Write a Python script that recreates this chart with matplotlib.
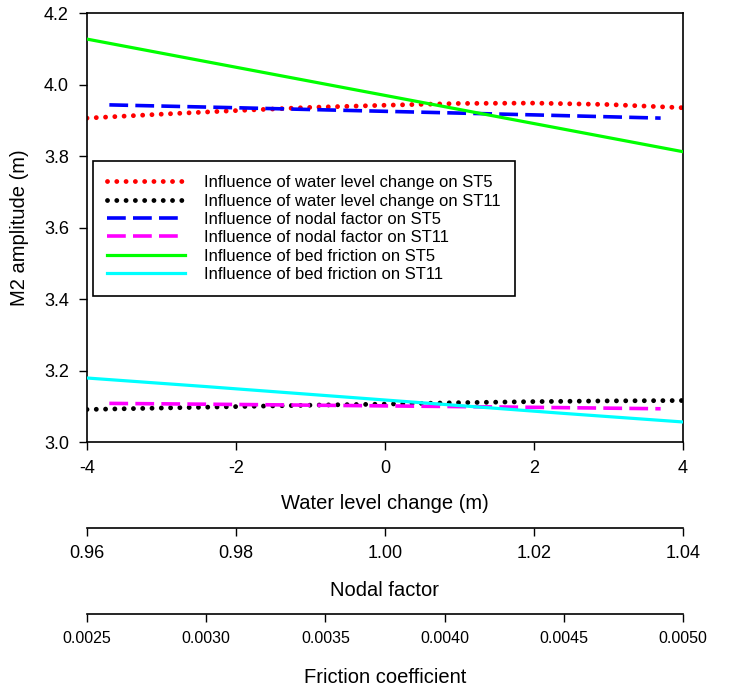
import numpy as np
import matplotlib
matplotlib.use("Agg")
import matplotlib.pyplot as plt

plt.rcParams['font.family'] = ['Liberation Sans', 'DejaVu Sans']
plt.rcParams['axes.unicode_minus'] = False

# water level change (m) and M2 amplitude
water_level = [-4, -3, -2, -1, 0, 1, 2, 3, 4]
wl_st5 = [3.906, 3.917, 3.927, 3.936, 3.942, 3.947, 3.948, 3.944, 3.935]
wl_st11 = [3.091, 3.095, 3.099, 3.103, 3.106, 3.110, 3.113, 3.115, 3.116]

# nodal factor
nodal = [0.963, 0.98, 1.00, 1.02, 1.037]
nf_st5 = [3.943, 3.935, 3.925, 3.915, 3.906]
nf_st11 = [3.108, 3.105, 3.101, 3.097, 3.093]

# friction coefficient
friction = [0.0025, 0.0030, 0.0035, 0.0040, 0.0045, 0.0050]
bf_st5 = [4.127, 4.064, 4.001, 3.938, 3.875, 3.812]
bf_st11 = [3.179, 3.155, 3.130, 3.105, 3.080, 3.056]

fig = plt.figure(figsize=(7.35, 6.92), dpi=100)
ax = fig.add_axes([87/735, 1-442/692, 596/735, 429/692])

dot = (0, (0.001, 1.91))
dash = (0, (5.2, 2.0))

l1, = ax.plot(water_level, wl_st5, color='#ff0000', lw=3.5, ls=dot, dash_capstyle='round',
              label='Influence of water level change on ST5')
l2, = ax.plot(water_level, wl_st11, color='black', lw=3.5, ls=dot, dash_capstyle='round',
              label='Influence of water level change on ST11')
ax.set_xlim(-4, 4)
ax.set_ylim(3.0, 4.2)
ax.set_xticks([-4, -2, 0, 2, 4])
ax.set_yticks([3.0, 3.2, 3.4, 3.6, 3.8, 4.0, 4.2])
ax.yaxis.set_major_formatter(matplotlib.ticker.FormatStrFormatter('%.1f'))
ax.tick_params(direction='out', length=6, width=1, labelsize=13, pad=7)
ax.set_xlabel('Water level change (m)', fontsize=14.5, labelpad=12)
ax.set_ylabel('M2 amplitude (m)', fontsize=14.5, labelpad=11)
for s in ax.spines.values():
    s.set_linewidth(1.2)

# nodal factor axis
ax2 = ax.twiny()
ax2.set_xlim(0.96, 1.04)
l3, = ax2.plot(nodal, nf_st5, color='#0000ff', lw=2.6, ls=dash, label='Influence of nodal factor on ST5')
l4, = ax2.plot(nodal, nf_st11, color='#ff00ff', lw=2.6, ls=dash, label='Influence of nodal factor on ST11')
ax2.xaxis.set_ticks_position('bottom')
ax2.xaxis.set_label_position('bottom')
ax2.spines['bottom'].set_position(('outward', 62))
for s in ['top', 'left', 'right']:
    ax2.spines[s].set_visible(False)
ax2.spines['bottom'].set_linewidth(1.2)
ax2.set_xticks([0.96, 0.98, 1.00, 1.02, 1.04])
ax2.xaxis.set_major_formatter(matplotlib.ticker.FormatStrFormatter('%.2f'))
ax2.tick_params(direction='out', length=6, width=1, labelsize=13, pad=6)
ax2.set_xlabel('Nodal factor', fontsize=14.5, labelpad=14)
ax2.patch.set_visible(False)

# friction axis
ax3 = ax.twiny()
ax3.set_xlim(0.0025, 0.0050)
l5, = ax3.plot(friction, bf_st5, color='#00ff00', lw=2.3, label='Influence of bed friction on ST5')
l6, = ax3.plot(friction, bf_st11, color='#00ffff', lw=2.3, label='Influence of bed friction on ST11')
ax3.xaxis.set_ticks_position('bottom')
ax3.xaxis.set_label_position('bottom')
ax3.spines['bottom'].set_position(('outward', 124))
for s in ['top', 'left', 'right']:
    ax3.spines[s].set_visible(False)
ax3.spines['bottom'].set_linewidth(1.2)
ax3.set_xticks([0.0025, 0.0030, 0.0035, 0.0040, 0.0045, 0.0050])
ax3.xaxis.set_major_formatter(matplotlib.ticker.FormatStrFormatter('%.4f'))
ax3.tick_params(direction='out', length=6, width=1, labelsize=11.5, pad=6)
ax3.set_xlabel('Friction coefficient', fontsize=14.5, labelpad=16)
ax3.patch.set_visible(False)

leg = ax3.legend(handles=[l1, l2, l3, l4, l5, l6], loc='upper left',
                 bbox_to_anchor=(0.010, 0.655), borderaxespad=0, fontsize=12,
                 fancybox=False, framealpha=1, edgecolor='black',
                 handlelength=4.7, handletextpad=1.1, labelspacing=0.2, borderpad=0.85)
leg.get_frame().set_linewidth(1.2)

fig.savefig('out.png', dpi=100)
